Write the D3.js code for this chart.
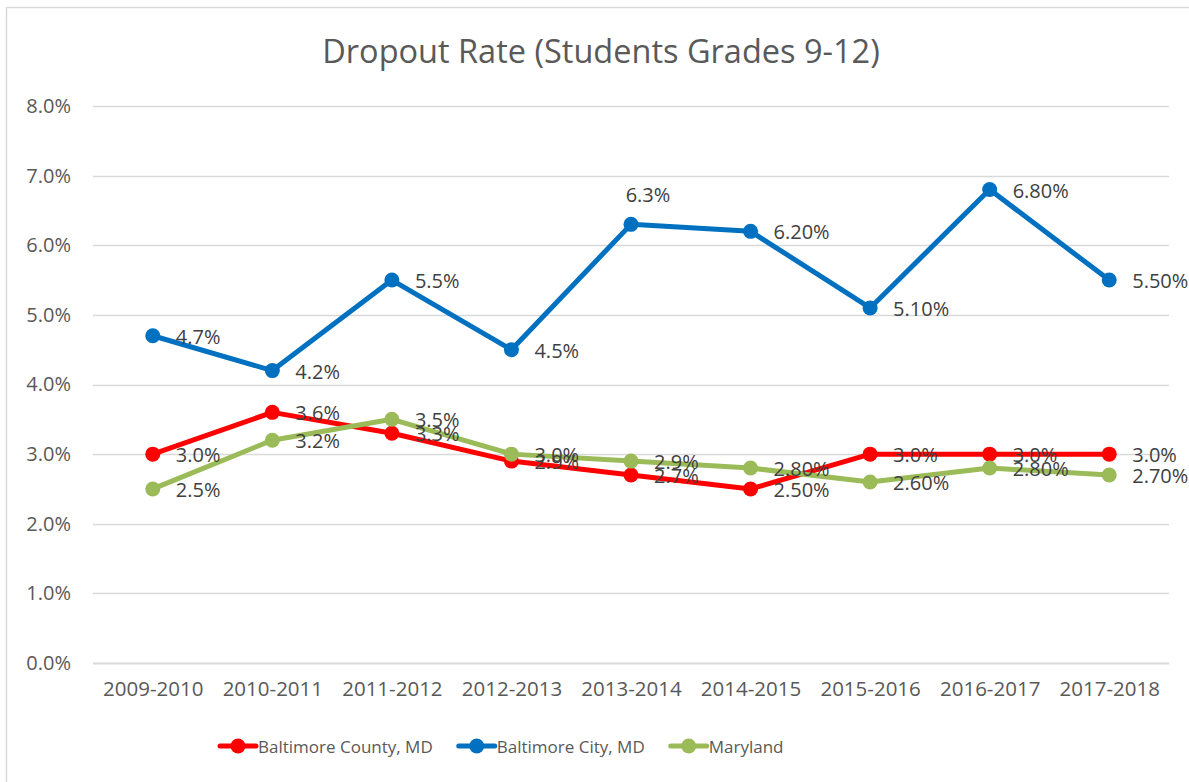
<!DOCTYPE html>
<html>
<head>
<meta charset="utf-8">
<script src="https://cdn.jsdelivr.net/npm/d3@7"></script>
<style>
  body { margin: 0; background: #fff; }
  svg { display: block; font-family: 'Open Sans', sans-serif; }
</style>
</head>
<body>
<svg></svg>
<script>
let years = ['2009-2010', '2010-2011', '2011-2012', '2012-2013', '2013-2014', '2014-2015', '2015-2016', '2016-2017', '2017-2018'];

let countyValues = [3.0, 3.6, 3.3, 2.9, 2.7, 2.5, 3.0, 3.0, 3.0];
let countyLabels = ['3.0%', '3.6%', '3.3%', '2.9%', '2.7%', '2.50%', '3.0%', '3.0%', '3.0%'];

let cityValues = [4.7, 4.2, 5.5, 4.5, 6.3, 6.2, 5.1, 6.8, 5.5];
let cityLabels = ['4.7%', '4.2%', '5.5%', '4.5%', '6.3%', '6.20%', '5.10%', '6.80%', '5.50%'];

let marylandValues = [2.5, 3.2, 3.5, 3.0, 2.9, 2.8, 2.6, 2.8, 2.7];
let marylandLabels = ['2.5%', '3.2%', '3.5%', '3.0%', '2.9%', '2.80%', '2.60%', '2.80%', '2.70%'];

let yTicks = [0, 1, 2, 3, 4, 5, 6, 7, 8];

let seriesNames = ['Baltimore County, MD', 'Baltimore City, MD', 'Maryland'];

let width = 1189;
let height = 782;
let plotLeft = 93;
let plotRight = 1169;
let plotTop = 106;
let plotBottom = 663;

let textColor = '#595959';
let labelColor = '#404040';

let series = [
    { name: seriesNames[0], values: countyValues, labels: countyLabels, color: '#ff0000' },
    { name: seriesNames[1], values: cityValues, labels: cityLabels, color: '#0070c0' },
    { name: seriesNames[2], values: marylandValues, labels: marylandLabels, color: '#9bbb59' }
];

let svg = d3.select('svg')
            .attr('width', width)
            .attr('height', height);

// chart frame (only top/left edges are inside the picture)
svg.append('rect')
   .attr('x', 6.5)
   .attr('y', 7.5)
   .attr('width', 1300)
   .attr('height', 900)
   .attr('fill', 'none')
   .attr('stroke', '#d9d9d9')
   .attr('stroke-width', 1.5);

let xScale = d3.scalePoint()
               .domain(years)
               .range([plotLeft, plotRight])
               .padding(0.5);

let yScale = d3.scaleLinear()
               .domain([0, 8])
               .range([plotBottom, plotTop]);

// gridlines
svg.append('g')
   .selectAll('line')
   .data(yTicks)
   .enter()
   .append('line')
   .attr('x1', plotLeft)
   .attr('x2', plotRight)
   .attr('y1', d => Math.round(yScale(d)) + 0.5)
   .attr('y2', d => Math.round(yScale(d)) + 0.5)
   .attr('stroke', '#d9d9d9')
   .attr('stroke-width', d => d === 0 ? 2 : 1.3);

// y axis labels
let yAxis = d3.axisLeft(yScale)
              .tickValues(yTicks)
              .tickFormat(d => d.toFixed(1) + '%')
              .tickSize(0)
              .tickPadding(22);

let yAxisG = svg.append('g')
                .attr('transform', `translate(${plotLeft}, 0)`)
                .call(yAxis);
yAxisG.select('.domain').remove();
yAxisG.selectAll('text')
      .attr('fill', textColor)
      .style('font-size', '20px')
      .style('font-family', "'Open Sans', sans-serif");

// x axis labels
let xAxis = d3.axisBottom(xScale)
              .tickSize(0)
              .tickPadding(18);

let xAxisG = svg.append('g')
                .attr('transform', `translate(0, ${plotBottom})`)
                .call(xAxis);
xAxisG.select('.domain').remove();
xAxisG.selectAll('text')
      .attr('fill', textColor)
      .style('font-size', '20.5px')
      .style('font-family', "'Open Sans', sans-serif");

// title
svg.append('text')
   .attr('x', 601)
   .attr('y', 63)
   .attr('text-anchor', 'middle')
   .attr('fill', textColor)
   .style('font-size', '32.5px')
   .text('Dropout Rate (Students Grades 9-12)');

// lines and markers
let line = d3.line()
             .x((d, i) => xScale(years[i]))
             .y(d => yScale(d));

series.forEach(s => {
    svg.append('path')
       .datum(s.values)
       .attr('d', line)
       .attr('fill', 'none')
       .attr('stroke', s.color)
       .attr('stroke-width', 5)
       .attr('stroke-linejoin', 'round');

    svg.append('g')
       .selectAll('circle')
       .data(s.values)
       .enter()
       .append('circle')
       .attr('cx', (d, i) => xScale(years[i]))
       .attr('cy', d => yScale(d))
       .attr('r', 7.5)
       .attr('fill', s.color);
});

// data labels, drawn after all lines so they sit on top
// (the 2013-2014 city label sits above its point, like the original)
let isAbove = (s, i) => s.name === seriesNames[1] && i === 4;

series.forEach(s => {
    svg.append('g')
       .selectAll('text')
       .data(s.values)
       .enter()
       .append('text')
       .attr('x', (d, i) => xScale(years[i]))
       .attr('y', d => yScale(d))
       .attr('dx', (d, i) => isAbove(s, i) ? 17 : 23)
       .attr('dy', (d, i) => isAbove(s, i) ? -22 : 8)
       .attr('text-anchor', (d, i) => isAbove(s, i) ? 'middle' : 'start')
       .attr('fill', labelColor)
       .style('font-size', '20px')
       .text((d, i) => s.labels[i]);
});

// legend
let legend = svg.append('g')
                .attr('transform', `translate(220, 746)`);

let legendX = 0;
series.forEach(s => {
    let item = legend.append('g')
                     .attr('transform', `translate(${legendX}, 0)`);

    item.append('line')
        .attr('x1', 0)
        .attr('x2', 36)
        .attr('y1', 0)
        .attr('y2', 0)
        .attr('stroke', s.color)
        .attr('stroke-width', 5)
        .attr('stroke-linecap', 'round');

    item.append('circle')
        .attr('cx', 18)
        .attr('cy', 0)
        .attr('r', 7.5)
        .attr('fill', s.color);

    let label = item.append('text')
                    .attr('x', 38)
                    .attr('y', 6.5)
                    .attr('fill', textColor)
                    .style('font-size', '17px')
                    .text(s.name);

    legendX += 38 + label.node().getComputedTextLength() + 26;
});
</script>
</body>
</html>
